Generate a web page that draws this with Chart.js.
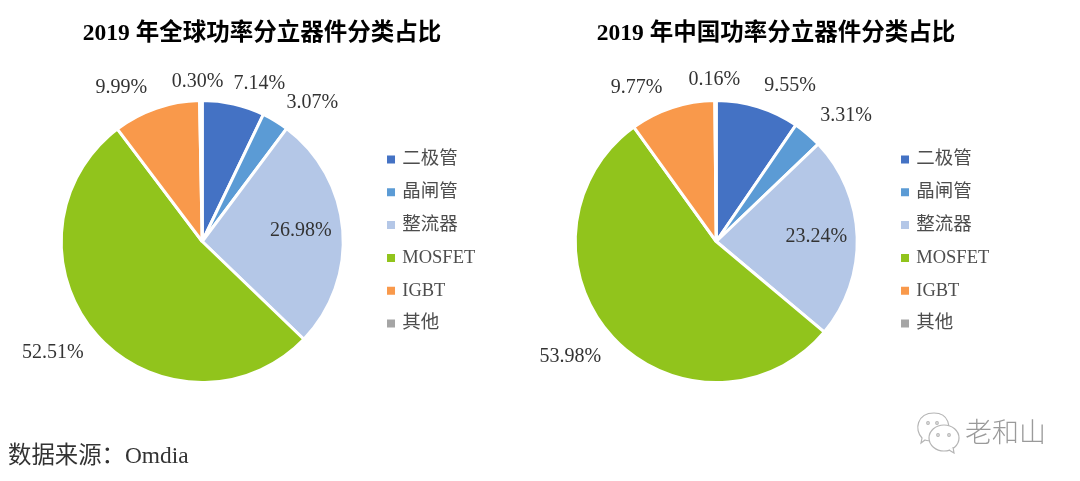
<!DOCTYPE html>
<html>
<head>
<meta charset="utf-8">
<script src="https://cdn.jsdelivr.net/npm/chart.js@4/dist/chart.umd.min.js"></script>
<style>
  html, body { margin: 0; background: #fff; }
  body { position: relative; width: 1080px; height: 481px; overflow: hidden; }
  .box { position: absolute; top: 0; width: 529px; height: 481px; }
  #boxLeft { left: 0; }
  #boxRight { left: 514px; }
  .title { position: absolute; top: 20px; width: 524px; text-align: center; font: bold 23.5px/24px "Liberation Serif", "Noto Sans CJK SC"; color: #000; }
  #titleLeft { left: 0; }
  #titleRight { left: 514px; }
  #source { position: absolute; left: 8px; top: 436px; font: 23.4px "Liberation Serif", "Noto Sans CJK SC"; color: #333; }
  #mark { position: absolute; left: 965px; top: 415px; font: 27px "Noto Sans CJK SC"; font-weight: 300; color: #9a9a9a; line-height: 32px; }
  #icon { position: absolute; left: 914px; top: 410px; }
</style>
</head>
<body>
<div class="box" id="boxLeft"><canvas id="chartLeft" width="529" height="481"></canvas></div>
<div class="box" id="boxRight"><canvas id="chartRight" width="529" height="481"></canvas></div>
<div class="title" id="titleLeft"></div>
<div class="title" id="titleRight"></div>
<div id="source">数据来源：Omdia</div>
<svg id="icon" width="48" height="44" fill="#fff" stroke="#b5b5b5" stroke-width="1.2">
  <path d="M8 28 C0 20 3 3 20 3 C35 3 38 18 31 25 L20 30 C16 31 13 31 11 30 L7 33 Z"/>
  <ellipse cx="30" cy="28" rx="15" ry="13"/>
  <path d="M35 40 L40 43 L39 37" />
  <circle cx="14" cy="13" r="1.3"/><circle cx="23" cy="13" r="1.3"/>
  <circle cx="24" cy="25" r="1.3"/><circle cx="35" cy="25" r="1.3"/>
</svg>
<div id="mark">老和山</div>
<script>
const categories = ["二极管", "晶闸管", "整流器", "MOSFET", "IGBT", "其他"];
const colors = ["#4472C4", "#5B9BD5", "#B4C7E7", "#91C41C", "#F9994B", "#A5A5A5"];

const globalTitle = "2019 年全球功率分立器件分类占比";
const globalValues = [7.14, 3.07, 26.98, 52.51, 9.99, 0.30];
const chinaTitle = "2019 年中国功率分立器件分类占比";
const chinaValues = [9.55, 3.31, 23.24, 53.98, 9.77, 0.16];

//Nudges for the value labels, the original has them placed by hand
const globalNudge = [[21, 0], [26, 0], [-63, 2], [-28, 4], [-28, 0], [-3, 2]];
const chinaNudge = [[26, -1], [25, -2], [-62, 1], [-27, 5], [-29, 0], [-1, 0]];

const serif = '"Liberation Serif", "Noto Sans CJK SC"';

const valueLabels = {
    id: "valueLabels",
    afterDatasetsDraw(chart, args, opts) {
        const ctx = chart.ctx;
        const arcs = chart.getDatasetMeta(0).data;
        ctx.save();
        ctx.font = "20px " + serif;
        ctx.fillStyle = "#333333";
        ctx.textAlign = "center";
        ctx.textBaseline = "middle";
        arcs.forEach((arc, i) => {
            const mid = (arc.startAngle + arc.endAngle) / 2;
            const r = arc.outerRadius * 1.15;
            const x = arc.x + Math.cos(mid) * r + opts.nudge[i][0];
            const y = arc.y + Math.sin(mid) * r + opts.nudge[i][1];
            ctx.fillText(chart.data.datasets[0].data[i].toFixed(2) + "%", x, y);
        });
        ctx.restore();
    }
};

function drawPie(id, values, nudge) {
    new Chart(document.getElementById(id), {
        type: "pie",
        plugins: [valueLabels],
        data: {
            labels: categories,
            datasets: [{
                data: values,
                backgroundColor: colors,
                borderColor: "#ffffff",
                borderWidth: 3,
                radius: 141
            }]
        },
        options: {
            responsive: false,
            animation: false,
            layout: { padding: { left: 29.75, top: 47, bottom: 45, right: 43.75 } },
            plugins: {
                tooltip: { enabled: false },
                title: { display: false },
                legend: {
                    position: "right",
                    labels: {
                        boxWidth: 4,
                        boxHeight: 4,
                        color: "#4d4d4d",
                        font: { family: serif, size: 18.5, lineHeight: 1 },
                        padding: 14.3,
                        //thick stroke makes the marker sit closer to its text
                        generateLabels(chart) {
                            const items = Chart.overrides.pie.plugins.legend.labels.generateLabels(chart);
                            return items.map(item => ({ ...item, strokeStyle: item.fillStyle, lineWidth: 4 }));
                        }
                    }
                },
                valueLabels: { nudge }
            }
        }
    });
}

document.getElementById("titleLeft").textContent = globalTitle;
document.getElementById("titleRight").textContent = chinaTitle;
drawPie("chartLeft", globalValues, globalNudge);
drawPie("chartRight", chinaValues, chinaNudge);
</script>
</body>
</html>
